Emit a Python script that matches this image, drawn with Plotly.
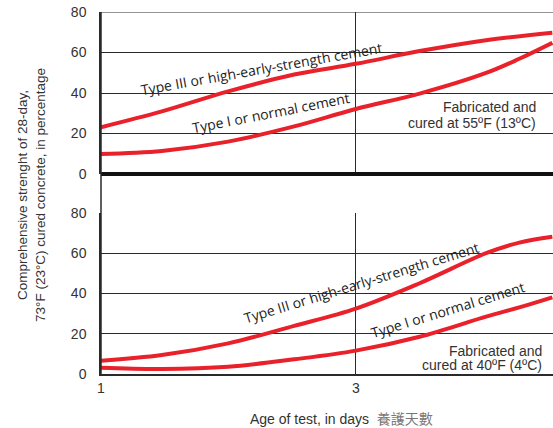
import numpy as np
import plotly.graph_objects as go

# Age of test (days) and strength as % of 28-day, 73°F (23°C) cured concrete
days_55_t3 = [1, 1.3, 1.73, 2.3, 3, 3.95, 5.26, 7]
str_55_t3 = [23.1, 30.9, 40.8, 49.1, 54.4, 60.7, 66.1, 69.8]
days_55_t1 = [1, 1.3, 1.73, 2.3, 3, 3.95, 5.26, 6.07, 7]
str_55_t1 = [9.9, 11.4, 16.0, 23.5, 32.1, 39.7, 49.9, 56.9, 64.8]

days_40_t3 = [1, 1.3, 1.73, 2.3, 3, 3.95, 5.26, 6.07, 7]
str_40_t3 = [6.6, 9.4, 15.2, 23.9, 32.5, 45.1, 60.0, 65.3, 68.2]
days_40_t1 = [1, 1.3, 1.73, 2.3, 3, 3.95, 5.26, 6.07, 7]
str_40_t1 = [3.1, 2.5, 3.6, 7.3, 11.6, 18.5, 28.5, 33.1, 38.1]

x_ticks = [1, 3, 7]
y_ticks = [0, 20, 40, 60, 80]

RED = "#e8212b"
GRID = "#2a2a2a"
TICKFONT = dict(family="Liberation Sans, Arial, sans-serif", size=14, color="#333")
LABELFONT = dict(family="Open Sans, Noto Sans, sans-serif", size=14, color="#222")

fig = go.Figure()

for xs, ys, ax in [(days_55_t3, str_55_t3, "y2"), (days_55_t1, str_55_t1, "y2"),
                   (days_40_t3, str_40_t3, "y"), (days_40_t1, str_40_t1, "y")]:
    fig.add_trace(go.Scatter(x=xs, y=ys, mode="lines", yaxis=ax, xaxis="x",
                             line=dict(color=RED, width=4, shape="spline", smoothing=1.0),
                             hoverinfo="skip", showlegend=False))

fig.update_layout(
    width=553, height=428,
    margin=dict(l=101, r=0, t=12, b=54),
    plot_bgcolor="white", paper_bgcolor="white",
    xaxis=dict(type="log", range=[0, np.log10(7.02)], tickvals=x_ticks, ticktext=[str(v) for v in x_ticks],
               showgrid=True, gridcolor=GRID, gridwidth=1.2, zeroline=False,
               showline=True, linecolor=GRID, linewidth=1.5, ticks="", tickfont=TICKFONT,
               anchor="y"),
    yaxis=dict(domain=[0, 0.4448], range=[0, 80], tickvals=y_ticks, showgrid=True,
               gridcolor=GRID, gridwidth=1.2, zeroline=False, showline=True, linecolor=GRID,
               linewidth=1.5, ticks="", tickfont=TICKFONT, ticklabelstandoff=10),
    yaxis2=dict(domain=[0.5525, 1], range=[0, 80], tickvals=y_ticks, showgrid=True,
                gridcolor=GRID, gridwidth=1.2, zeroline=True, zerolinecolor="#111",
                zerolinewidth=4, showline=True, linecolor=GRID, linewidth=1.5, ticks="",
                tickfont=TICKFONT, ticklabelstandoff=10, anchor="x"),
)

# vertical rules running through the gap between the two panels
fig.add_shape(type="line", xref="paper", yref="paper", x0=0, x1=0, y0=0, y1=1,
              line=dict(color=GRID, width=1.5))
fig.add_shape(type="line", xref="x", yref="paper", x0=np.log10(3), x1=np.log10(3), y0=0, y1=1,
              line=dict(color=GRID, width=1.2))
fig.add_shape(type="line", xref="paper", yref="y2", x0=0, x1=1, y0=80, y1=80,
              line=dict(color=GRID, width=1.2))

curve_labels = [
    ("Type III or high-early-strength cement", 2.0, 52.3, -10, "y2"),
    ("Type I or normal cement", 2.085, 30.6, -11, "y2"),
    ("Type III or high-early-strength cement", 3.075, 45.6, -17, "y"),
    ("Type I or normal cement", 4.47, 32.0, -17, "y"),
]
for text, d, v, ang, ax in curve_labels:
    fig.add_annotation(text=text, x=np.log10(d), y=v, xref="x", yref=ax, showarrow=False,
                       textangle=ang, font=LABELFONT, xanchor="center", yanchor="middle")

cond_lines = [
    ("Fabricated and", 0.967, 33.1, "y2"),
    ("cured at 55ºF (13ºC)", 0.967, 25.4, "y2"),
    ("Fabricated and", 0.980, 11.4, "y"),
    ("cured at 40ºF (4ºC)", 0.980, 4.5, "y"),
]
for text, xp, v, ax in cond_lines:
    fig.add_annotation(text=text, x=xp, y=v, xref="paper", yref=ax, showarrow=False,
                       xanchor="right", yanchor="middle", font=TICKFONT)

fig.add_annotation(text="Comprehensive strenght of 28-day,<br>73°F (23°C) cured concrete, in percentage",
                   x=-0.1527, y=0.4945, xref="paper", yref="paper", showarrow=False, textangle=-90,
                   xanchor="center", yanchor="middle",
                   font=dict(family="Liberation Sans, Arial, sans-serif", size=13.5, color="#333"))

fig.add_annotation(text="Age of test, in days&nbsp;&nbsp;<span style='color:#777;font-family:Noto Sans CJK TC'>養護天數</span>",
                   x=0.531, y=-0.1215, xref="paper", yref="paper", showarrow=False,
                   xanchor="center", yanchor="middle",
                   font=dict(family="Liberation Sans, Arial, sans-serif", size=14, color="#333"))

fig.write_html("out.html")
